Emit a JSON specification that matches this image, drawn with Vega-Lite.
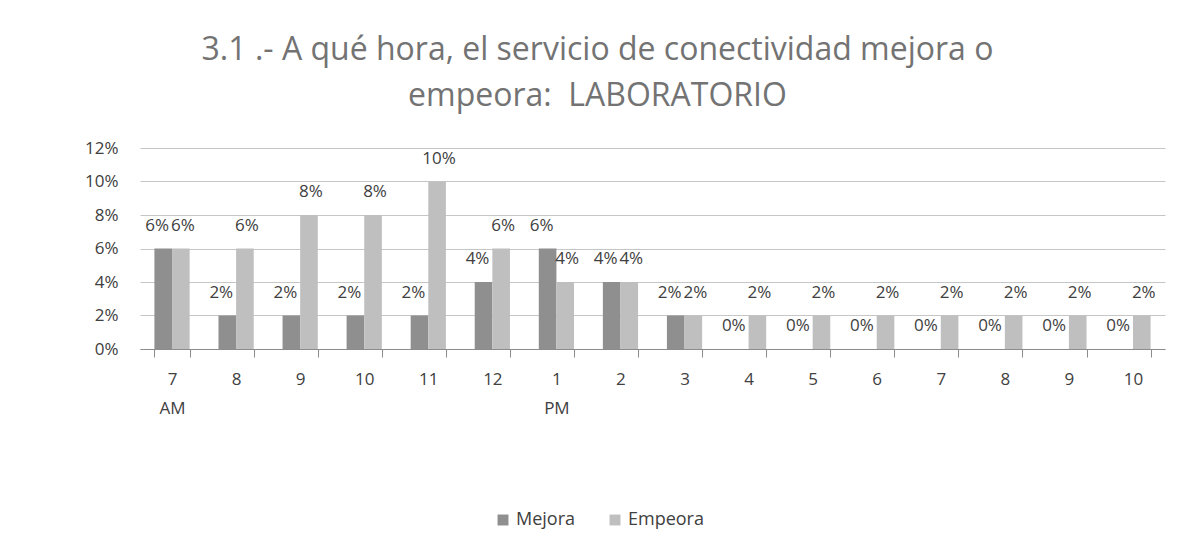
{
  "$schema": "https://vega.github.io/schema/vega-lite/v6.json",
  "width": 1025,
  "height": 201,
  "autosize": "none",
  "padding": {"left": 140, "top": 148, "right": 27, "bottom": 201},
  "background": "white",
  "title": {
    "text": ["3.1 .- A qué hora, el servicio de conectividad mejora o", "empeora:\u00a0 LABORATORIO"],
    "font": "Open Sans",
    "fontSize": 32,
    "fontWeight": "normal",
    "color": "#737373",
    "lineHeight": 46,
    "anchor": "middle",
    "dx": -55,
    "offset": 26
  },
  "data": {
    "values": [
      {"hora": "7 AM", "serie": "Mejora", "valor": 0.06},
      {"hora": "7 AM", "serie": "Empeora", "valor": 0.06},
      {"hora": "8 AM", "serie": "Mejora", "valor": 0.02},
      {"hora": "8 AM", "serie": "Empeora", "valor": 0.06},
      {"hora": "9 AM", "serie": "Mejora", "valor": 0.02},
      {"hora": "9 AM", "serie": "Empeora", "valor": 0.08},
      {"hora": "10 AM", "serie": "Mejora", "valor": 0.02},
      {"hora": "10 AM", "serie": "Empeora", "valor": 0.08},
      {"hora": "11 AM", "serie": "Mejora", "valor": 0.02},
      {"hora": "11 AM", "serie": "Empeora", "valor": 0.10},
      {"hora": "12 PM", "serie": "Mejora", "valor": 0.04},
      {"hora": "12 PM", "serie": "Empeora", "valor": 0.06},
      {"hora": "1 PM", "serie": "Mejora", "valor": 0.06},
      {"hora": "1 PM", "serie": "Empeora", "valor": 0.04},
      {"hora": "2 PM", "serie": "Mejora", "valor": 0.04},
      {"hora": "2 PM", "serie": "Empeora", "valor": 0.04},
      {"hora": "3 PM", "serie": "Mejora", "valor": 0.02},
      {"hora": "3 PM", "serie": "Empeora", "valor": 0.02},
      {"hora": "4 PM", "serie": "Mejora", "valor": 0.0},
      {"hora": "4 PM", "serie": "Empeora", "valor": 0.02},
      {"hora": "5 PM", "serie": "Mejora", "valor": 0.0},
      {"hora": "5 PM", "serie": "Empeora", "valor": 0.02},
      {"hora": "6 PM", "serie": "Mejora", "valor": 0.0},
      {"hora": "6 PM", "serie": "Empeora", "valor": 0.02},
      {"hora": "7 PM", "serie": "Mejora", "valor": 0.0},
      {"hora": "7 PM", "serie": "Empeora", "valor": 0.02},
      {"hora": "8 PM", "serie": "Mejora", "valor": 0.0},
      {"hora": "8 PM", "serie": "Empeora", "valor": 0.02},
      {"hora": "9 PM", "serie": "Mejora", "valor": 0.0},
      {"hora": "9 PM", "serie": "Empeora", "valor": 0.02},
      {"hora": "10 PM", "serie": "Mejora", "valor": 0.0},
      {"hora": "10 PM", "serie": "Empeora", "valor": 0.02}
    ]
  },
  "encoding": {
    "x": {
      "field": "hora",
      "type": "nominal",
      "sort": null,
      "scale": {"paddingInner": 0.45, "paddingOuter": 0.225},
      "axis": {
        "title": null,
        "labelAngle": 0,
        "labelExpr": "!isValid(datum.value) ? '' : datum.value == '7 AM' ? ['7', 'AM'] : datum.value == '1 PM' ? ['1', 'PM'] : split(datum.value, ' ')[0]",
        "labelFont": "Open Sans",
        "labelFontSize": 17,
        "labelColor": "#404040",
        "labelLineHeight": 29,
        "labelPadding": 14,
        "labelBaseline": "top",
        "domainColor": "#8c8c8c",
        "tickColor": "#8c8c8c",
        "tickSize": 8,
        "tickBand": "extent",
        "grid": false
      }
    },
    "xOffset": {"field": "serie", "type": "nominal", "sort": ["Mejora", "Empeora"], "scale": {"paddingInner": 0, "paddingOuter": 0}},
    "y": {
      "field": "valor",
      "type": "quantitative",
      "scale": {"domain": [0, 0.12], "nice": false},
      "axis": {
        "title": null,
        "format": ".0%",
        "values": [0, 0.02, 0.04, 0.06, 0.08, 0.1, 0.12],
        "labelFont": "Open Sans",
        "labelFontSize": 17,
        "labelColor": "#404040",
        "labelPadding": 22,
        "ticks": false,
        "domain": false,
        "gridColor": "#c6c6c6",
        "gridWidth": 1
      }
    }
  },
  "layer": [
    {
      "mark": {"type": "bar"},
      "encoding": {
        "color": {
          "field": "serie",
          "type": "nominal",
          "sort": ["Mejora", "Empeora"],
          "scale": {"domain": ["Mejora", "Empeora"], "range": ["#8f8f8f", "#bfbfbf"]},
          "legend": {
            "title": null,
            "orient": "none",
            "direction": "horizontal",
            "legendX": 354,
            "legendY": 363,
            "symbolType": "square",
            "symbolSize": 120,
            "symbolStrokeWidth": 0,
            "labelFont": "Open Sans",
            "labelFontSize": 18,
            "labelColor": "#404040",
            "columnPadding": 30,
            "labelOffset": 4
          }
        }
      }
    },
    {
      "transform": [{"filter": "datum.serie == 'Mejora'"}],
      "mark": {"type": "text", "font": "Open Sans", "fontSize": 17, "color": "#404040", "baseline": "middle", "dy": -23, "dx": -6},
      "encoding": {"text": {"field": "valor", "type": "quantitative", "format": ".0%"}}
    },
    {
      "transform": [{"filter": "datum.serie == 'Empeora'"}],
      "mark": {"type": "text", "font": "Open Sans", "fontSize": 17, "color": "#404040", "baseline": "middle", "dy": -23, "dx": 2},
      "encoding": {"text": {"field": "valor", "type": "quantitative", "format": ".0%"}}
    }
  ],
  "config": {"view": {"stroke": null}}
}
